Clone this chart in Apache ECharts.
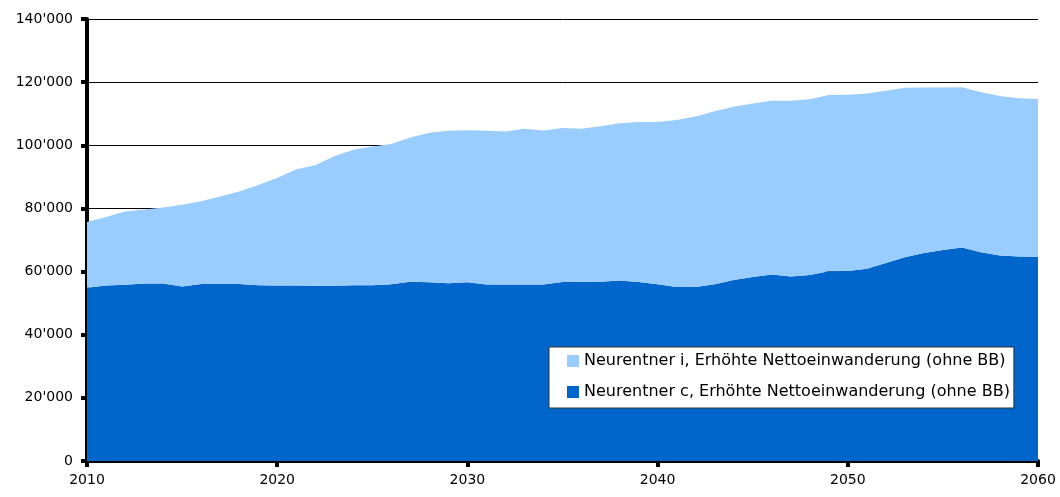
<!DOCTYPE html>
<html>
<head>
<meta charset="utf-8">
<script src="https://cdn.jsdelivr.net/npm/echarts@6/dist/echarts.min.js"></script>
<style>
html,body{margin:0;padding:0;background:#fff;}
#chart{width:1060px;height:497px;}
</style>
</head>
<body>
<div id="chart"></div>
<script>
// Jahre 2010..2060
var years = [];
for (var y = 2010; y <= 2060; y++) years.push(String(y));

// Neurentner c (unten, dunkelblau)
var neurentnerC = [
54900,55600,55800,56200,56200,55300,56100,56100,56100,55700,
55600,55600,55500,55500,55700,55700,56000,56800,56600,56300,
56600,55900,55900,55900,55900,56700,56700,56800,57200,56700,
56000,55100,55100,56000,57300,58300,59100,58400,58900,60100,
60200,60900,62700,64500,65900,66800,67600,66100,65100,64800,
64700
];

// Neurentner i (oben, hellblau, gestapelt)
var neurentnerI = [
20800,21700,23200,23500,24100,25900,26200,27700,29300,31700,
34000,36800,38200,41000,42900,43900,44400,45700,47400,48300,
48200,48700,48500,49300,48800,48800,48500,49200,49800,50700,
51400,52900,54000,54800,54900,54900,55000,55700,55700,55800,
55800,55500,54600,53700,52400,51500,50800,50700,50500,50100,
50000
];

var nameI = 'Neurentner i, Erhöhte Nettoeinwanderung (ohne BB)';
var nameC = 'Neurentner c, Erhöhte Nettoeinwanderung (ohne BB)';

var chart = echarts.init(document.getElementById('chart'));
var option = {
    animation: false,
    textStyle: {fontFamily: 'DejaVu Sans'},
    grid: {left: 87, right: 22, top: 19, bottom: 36},
    legend: {
        orient: 'vertical',
        left: 549, top: 347,
        padding: [6, 4, 8, 18],
        backgroundColor: '#fff',
        borderColor: '#333', borderWidth: 1,
        itemWidth: 12, itemHeight: 12, itemGap: 15,
        icon: 'rect',
        textStyle: {fontSize: 16, color: '#000', fontFamily: 'DejaVu Sans'},
        data: [nameI, nameC]
    },
    xAxis: {
        type: 'category',
        data: years,
        boundaryGap: false,
        axisLine: {lineStyle: {color: '#000', width: 4}},
        axisTick: {interval: 9, length: 6, lineStyle: {color: '#000', width: 4}},
        axisLabel: {interval: 9, color: '#000', fontSize: 14, margin: 12},
        splitLine: {show: false}
    },
    yAxis: {
        type: 'value',
        min: 0, max: 140000, interval: 20000,
        axisLine: {show: true, lineStyle: {color: '#000', width: 4}},
        axisTick: {show: true, length: 6, lineStyle: {color: '#000', width: 4}},
        axisLabel: {
            color: '#000', fontSize: 14, margin: 14,
            formatter: function (v) {
                return String(v).replace(/\B(?=(\d{3})+(?!\d))/g, "'");
            }
        },
        splitLine: {lineStyle: {color: '#000', width: 1}}
    },
    series: [
        {
            name: nameC, type: 'line', stack: 'all',
            data: neurentnerC, symbol: 'none',
            lineStyle: {width: 0}, itemStyle: {color: '#0066CC'},
            areaStyle: {color: '#0066CC', opacity: 1}
        },
        {
            name: nameI, type: 'line', stack: 'all',
            data: neurentnerI, symbol: 'none',
            lineStyle: {width: 0}, itemStyle: {color: '#99CCFF'},
            areaStyle: {color: '#99CCFF', opacity: 1}
        }
    ]
};
chart.setOption(option);
</script>
</body>
</html>
